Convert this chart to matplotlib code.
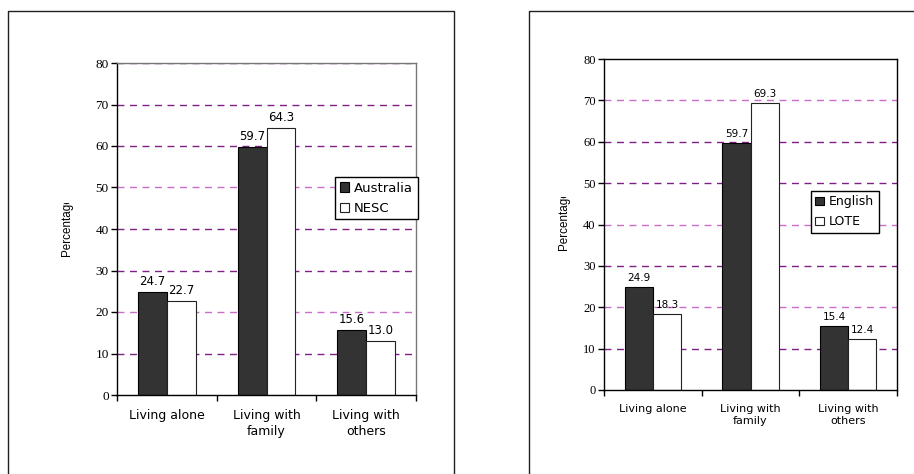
import numpy as np
import matplotlib.pyplot as plt
from matplotlib.lines import Line2D
from matplotlib.transforms import Bbox

categories = ["Living alone", "Living with\nfamily", "Living with\nothers"]
australia = [24.7, 59.7, 15.6]
nesc = [22.7, 64.3, 13.0]
english = [24.9, 59.7, 15.4]
lote = [18.3, 69.3, 12.4]
yticks = [0, 10, 20, 30, 40, 50, 60, 70, 80]

W, H = 914, 474
DARK = "#333333"
GRID_DARK = "#7f1f86"
GRID_LIGHT = "#c86ec8"

fig = plt.figure(figsize=(W / 100, H / 100), dpi=100)


def px_axes(l, t, r, b):
    return fig.add_axes([l / W, 1 - b / H, (r - l) / W, (b - t) / H])


def frame(points):
    xs = [p[0] / W for p in points]
    ys = [1 - p[1] / H for p in points]
    fig.add_artist(Line2D(xs, ys, transform=fig.transFigure, color="#222222", lw=1.0))


def panel(ax, a, b, names, grid, sizes, spine_col, leg_box, ylab_pos, ylab_top):
    tick_fs, lab_fs, val_fs, leg_fs = sizes
    x = np.arange(len(categories))
    w = 0.29
    ax.set_xlim(-0.5, 2.5)
    ax.set_ylim(0, 80)
    for y, col in grid.items():
        ax.axhline(y, color=col, lw=1.0, ls=(0, (5, 4)), zorder=0.5)
    b1 = ax.bar(x - w / 2, a, w, color=DARK, edgecolor="black", lw=0.8, zorder=2, label=names[0])
    b2 = ax.bar(x + w / 2, b, w, color="white", edgecolor="#222222", lw=0.8, zorder=2, label=names[1])
    for xi, v in zip(x - w / 2, a):
        ax.text(xi, v + 1.0, f"{v:.1f}", ha="center", va="bottom", fontsize=val_fs, zorder=3)
    for xi, v in zip(x + w / 2, b):
        ax.text(xi, v + 1.0, f"{v:.1f}", ha="center", va="bottom", fontsize=val_fs, zorder=3)

    ax.set_yticks(yticks)
    ax.set_yticklabels([str(t) for t in yticks], fontfamily="Liberation Serif", fontsize=tick_fs)
    ax.tick_params(axis="y", direction="out", length=4, width=1, pad=2, colors="black")
    ax.set_xticks(x)
    ax.set_xticklabels(categories, fontsize=lab_fs, linespacing=1.3)
    ax.tick_params(axis="x", which="major", length=0, pad=10)
    ax.set_xticks([-0.5, 0.5, 1.5, 2.5], minor=True)
    ax.tick_params(axis="x", which="minor", direction="out", length=4, width=1)

    ax.spines["left"].set_color("black")
    ax.spines["bottom"].set_color("black")
    ax.spines["top"].set_color(spine_col)
    ax.spines["right"].set_color(spine_col)
    for s in ax.spines.values():
        s.set_linewidth(1.0)

    leg = ax.legend(handles=[b1, b2], loc="upper left",
                    bbox_to_anchor=(leg_box[0] / W, 1 - leg_box[1] / H),
                    bbox_transform=fig.transFigure, fontsize=leg_fs,
                    fancybox=False, edgecolor="black", framealpha=1,
                    borderpad=0.35, borderaxespad=0, handlelength=0.7,
                    handleheight=0.7, handletextpad=0.4, labelspacing=0.55)
    leg.get_frame().set_linewidth(1.0)
    leg.set_zorder(5)

    # axis title is cut off at the top
    t = fig.text(ylab_pos[0] / W, 1 - ylab_pos[1] / H, "Percentage", rotation=90,
                 ha="center", va="center", fontsize=8.4, fontfamily="Liberation Sans")
    t.set_clip_on(True)
    t.set_clip_box(Bbox.from_extents(0, 0, W, H - ylab_top))


frame([(8, 490), (8, 11), (454, 11), (454, 490)])
frame([(529, 490), (529, 11), (930, 11)])

ax1 = px_axes(117, 63, 416, 395)
grid1 = {80: GRID_DARK, 70: GRID_DARK, 60: GRID_DARK, 50: GRID_LIGHT,
         40: GRID_DARK, 30: GRID_DARK, 20: GRID_LIGHT, 10: GRID_DARK}
panel(ax1, australia, nesc, ["Australia", "NESC"], grid1, (9.5, 9, 8.5, 9.5),
      "#777777", (335, 177), (67, 226), 203)

ax2 = px_axes(604, 59, 897, 390)
grid2 = {70: GRID_LIGHT, 60: GRID_DARK, 50: GRID_DARK, 40: GRID_LIGHT,
         30: GRID_DARK, 20: GRID_LIGHT, 10: GRID_DARK}
panel(ax2, english, lote, ["English", "LOTE"], grid2, (9, 8, 7.5, 9),
      "black", (811, 191), (564, 220), 197)

fig.savefig("out.png", dpi=100)
